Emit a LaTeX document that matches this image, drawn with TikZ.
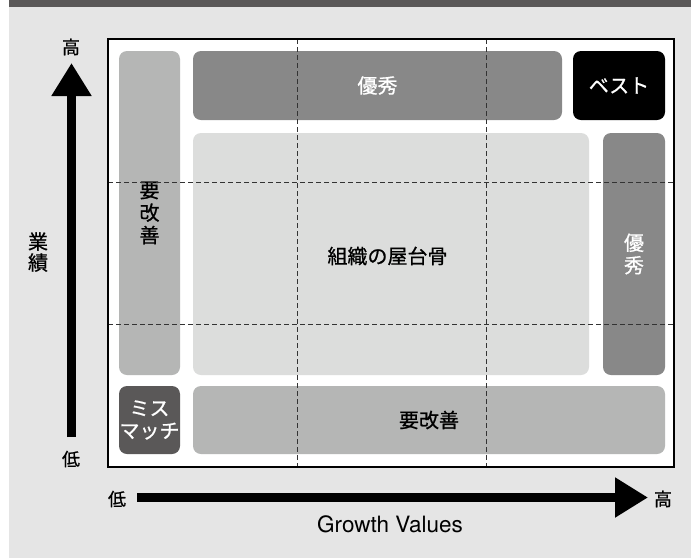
\documentclass[tikz,border=0pt]{standalone}
\usepackage{fontspec}
\setmainfont{Noto Sans CJK JP}[FakeBold=0.8, AutoFakeBold=0.8]
\newfontfamily\latinfont{TeX Gyre Heros}
\usetikzlibrary{arrows.meta}
\definecolor{panelbg}{HTML}{E5E5E5}
\definecolor{topbar}{HTML}{5A5858}
\definecolor{lightbox}{HTML}{B5B6B5}
\definecolor{midbox}{HTML}{888888}
\definecolor{centerbox}{HTML}{DCDDDC}
\definecolor{darkbox}{HTML}{5A5858}
\tikzset{
  cell/.style={rounded corners=8pt, inner sep=0pt, align=center,
    font=\bfseries\fontsize{20}{22.5}\selectfont},
  axislabel/.style={inner sep=0pt, font=\fontsize{18}{20}\selectfont},
  axisline/.style={line width=9.5pt, -{Triangle[length=33pt,width=38pt]}},
  grid/.style={dashed, dash pattern=on 5pt off 3pt, line width=0.9pt, color=black!80},
}
\begin{document}
\begin{tikzpicture}[x=1pt,y=-1pt]
\useasboundingbox (0,0) rectangle (691,558);
\fill[white] (0,0) rectangle (691,558);
\fill[panelbg] (9,0) rectangle (691,558);
\fill[topbar] (9,0) rectangle (691,7);
% frame
\fill[white] (108,39) rectangle (674,467);
% boxes
\node[cell, fill=lightbox, minimum width=61pt, minimum height=324pt] (lk) at (149.5,213) {要\\改\\善};
\node[cell, fill=midbox, text=white, minimum width=369pt, minimum height=69pt] (tk) at (377.5,85.5) {優秀};
\node[cell, fill=black, text=white, minimum width=92pt, minimum height=69pt] (best) at (619,85.5) {ベスト};
\node[cell, fill=centerbox, minimum width=396pt, minimum height=242pt] (core) at (391,254) {};
\node[cell, fill=midbox, text=white, minimum width=62pt, minimum height=242pt] (rk) at (634,254) {優\\秀};
\node[cell, fill=darkbox, text=white, minimum width=61pt, minimum height=68pt] (miss) at (149.5,420) {ミス\\マッチ};
\node[cell, fill=lightbox, minimum width=472pt, minimum height=68pt] (bk) at (429,420) {要改善};
% dashed grid
\coordinate (v1t) at (297.5,39); \coordinate (v1b) at (297.5,467);
\coordinate (v2t) at (486,39); \coordinate (v2b) at (486,467);
\coordinate (h1l) at (108,182); \coordinate (h1r) at (674,182);
\coordinate (h2l) at (108,324); \coordinate (h2r) at (674,324);
\draw[grid] (v1t) -- (v1b);
\draw[grid] (v2t) -- (v2b);
\draw[grid] (h1l) -- (h1r);
\draw[grid] (h2l) -- (h2r);
\node[cell] (corelabel) at (387.5,256) {組織の屋台骨};
\draw[line width=1.5pt] (108,39) rectangle (674,467);
% axes
\coordinate (ystart) at (71.5,437);
\coordinate (yend) at (71.5,63);
\draw[axisline] (ystart) -- (yend);
\coordinate (xstart) at (137,497.5);
\coordinate (xend) at (648,497.5);
\draw[axisline] (xstart) -- (xend);
\node[axislabel] (yhi) at (71,47) {高};
\node[axislabel] (ylo) at (71,459) {低};
\node[axislabel] (xlo) at (117,499) {低};
\node[axislabel] (xhi) at (663,499) {高};
\node[inner sep=0pt, align=center, font=\bfseries\fontsize{20}{21}\selectfont] (ytitle) at (38,252) {業\\績};
\node[inner sep=0pt, font=\latinfont\fontsize{22.5}{25}\selectfont] (xtitle) at (390,524) {Growth Values};
\end{tikzpicture}
\end{document}
